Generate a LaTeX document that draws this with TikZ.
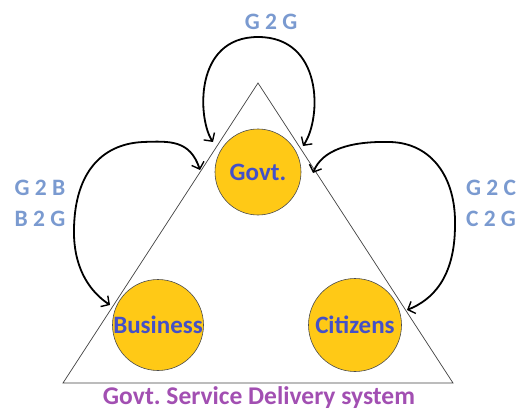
\documentclass[tikz,border=0pt]{standalone}
\usepackage{fontspec}
\setmainfont{Carlito}
\frenchspacing
\usetikzlibrary{arrows.meta}
\definecolor{circfill}{HTML}{FFC916}
\definecolor{circtext}{HTML}{4450C8}
\definecolor{flowtext}{HTML}{7A9AD0}
\definecolor{titletext}{HTML}{A24FB2}
\tikzset{
  party/.style={circle, fill=circfill, draw=black!70, line width=0.6pt,
    font=\bfseries\fontsize{25}{27}\selectfont, text=circtext, inner sep=0pt},
  flowlabel/.style={font=\bfseries\fontsize{23.5}{26}\selectfont, text=flowtext},
  loop/.style={line width=1.8pt, line cap=round, line join=round,
    {Straight Barb[length=6pt,width=13pt,line width=1.4pt]}-{Straight Barb[length=6pt,width=13pt,line width=1.4pt]}},
}
\begin{document}
\begin{tikzpicture}[x=1pt,y=-1pt]
  \useasboundingbox (0,0) rectangle (520,412);
  % service delivery triangle
  \coordinate (apex) at (258,83);
  \coordinate (bl) at (63,383);
  \coordinate (br) at (453,383);
  \draw[black!75, line width=0.7pt] (apex) -- (bl) -- (br) -- cycle;
  % the three parties
  \node[party, minimum size=86pt] (govt) at (258,172) {Govt.};
  \node[party, minimum size=91pt] (business) at (158,325) {Business};
  \node[party, minimum size=93pt] (citizens) at (355,325) {Citizens};
  % loop end points on the triangle sides
  \coordinate (gga) at (213,142);
  \coordinate (ggb) at (303,146);
  \coordinate (gba) at (200,170);
  \coordinate (gbb) at (110,305);
  \coordinate (gca) at (313,173);
  \coordinate (gcb) at (407,310);
  % interaction loops
  \draw[loop] (gga) .. controls (198,120) and (193,37) .. (258,37)
                    .. controls (323,37) and (322,118) .. (ggb);
  \draw[loop] (gba) .. controls (190,140) and (170,141) .. (143,142)
                    .. controls (100,144) and (73,175) .. (74,235)
                    .. controls (75,272) and (92,293) .. (gbb);
  \draw[loop] (gca) .. controls (322,150) and (350,141) .. (390,142)
                    .. controls (432,143) and (456,178) .. (455,225)
                    .. controls (455,278) and (432,300) .. (gcb);
  % labels
  \node[flowlabel] (lgg) at (271,22) {G 2 G};
  \node[flowlabel] (lgb) at (40,188) {G 2 B};
  \node[flowlabel] (lbg) at (40,219) {B 2 G};
  \node[flowlabel] (lgc) at (491,188) {G 2 C};
  \node[flowlabel] (lcg) at (491,219) {C 2 G};
  \node[font=\bfseries\fontsize{25.5}{28}\selectfont, text=titletext, inner sep=1pt] (title) at (259,398) {Govt. Service Delivery system};
\end{tikzpicture}
\end{document}
